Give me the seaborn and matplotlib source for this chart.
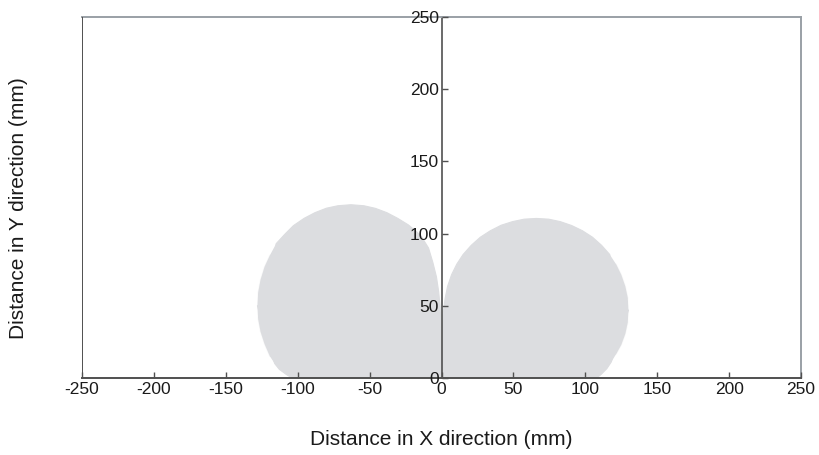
import numpy as np
import matplotlib
matplotlib.use("Agg")
import matplotlib.pyplot as plt
import pandas as pd
import seaborn as sns

# outline of the left lobe (mm)
left_x = [0, -0.2, -0.5, -1, -2, -3.5, -6, -9, -14, -17, -23, -30.5, -38, -46, -54,
          -63, -72, -80, -88, -95.5, -103, -109, -115, -119.3, -123, -125.8, -127.5,
          -128, -127.5, -125.8, -123, -119.3, -116, -112.8, -108, -104, 0]
left_y = [0, 20, 40, 50, 60, 70, 80, 90, 98, 101, 106, 110.6, 114.5, 117.5, 119.3,
          120, 119.3, 117.6, 114.5, 110.6, 105.5, 99.5, 93, 85, 77, 68, 59,
          50, 41, 32, 23.5, 15, 10, 6, 2.5, 0, 0]

# outline of the right lobe (mm)
right_x = [0, 0.2, 0.5, 1.2, 2.5, 4.2, 7, 10.6, 15, 20.7, 27, 34, 41.5, 49.4, 57.5,
           66, 74.5, 82.6, 90.5, 98, 105, 111.3, 117, 121.4, 125, 127.8, 129.5,
           130, 129.5, 127.8, 125, 121.4, 118, 115, 111, 108, 0]
right_y = [0, 15, 30, 45, 55, 63.4, 71.5, 78.8, 85.5, 91.9, 97.5, 102, 105.8, 108.3, 110,
           110.5, 110, 108.3, 105.6, 102, 97.5, 91.9, 85.5, 78.8, 71.5, 63.4, 55.5,
           47, 38.5, 30.6, 23, 16.5, 11, 6.5, 2.5, 0, 0]

x_ticks = [-250, -200, -150, -100, -50, 0, 50, 100, 150, 200, 250]
y_ticks = [0, 50, 100, 150, 200, 250]

sns.set_theme(style="white")
plt.rcParams['font.family'] = ['Liberation Sans', 'DejaVu Sans']
plt.rcParams['axes.unicode_minus'] = False

fill_col = '#dcdde0'
dark = '#505050'
light = '#9aa0a6'

fig = plt.figure(figsize=(8.19, 4.55), dpi=100)
ax = fig.add_axes([82/819, 77/455, 719/819, 361/455])
ax.set_axisbelow(False)

for xs, ys in [(left_x, left_y), (right_x, right_y)]:
    lobe = pd.DataFrame({'x': xs, 'y': ys})
    ax.fill(lobe['x'], lobe['y'], color=fill_col, lw=0, zorder=1)
    sns.lineplot(data=lobe, x='x', y='y', sort=False, color=fill_col, lw=0.8, ax=ax, zorder=1)

ax.set_xlim(x_ticks[0], x_ticks[-1])
ax.set_ylim(y_ticks[0], y_ticks[-1])
ax.set_xticks(x_ticks)
ax.set_yticks(y_ticks)

# y axis drawn through x = 0
ax.spines['left'].set_position(('data', 0))
ax.spines['left'].set_color(dark)
ax.spines['left'].set_linewidth(1.2)
ax.spines['bottom'].set_color(dark)
ax.spines['bottom'].set_linewidth(1.4)
for s in ['top', 'right']:
    ax.spines[s].set_color(light)
    ax.spines[s].set_linewidth(1.4)
ax.axvline(ax.get_xlim()[0], color=dark, lw=1.4, zorder=3)

ax.tick_params(axis='both', direction='in', length=4, width=1, color=dark,
               labelsize=12.5, labelcolor='#1a1a1a')
ax.tick_params(axis='y', left=True, pad=2)
ax.tick_params(axis='x', bottom=True, pad=3)

ax.set_xlabel('Distance in X direction (mm)', fontsize=15, color='#1a1a1a')
ax.set_ylabel('Distance in Y direction (mm)', fontsize=15, color='#1a1a1a')
ax.xaxis.set_label_coords(0.5, -0.145)
ax.yaxis.set_label_coords(-0.075, 0.47)

fig.savefig('out.png', dpi=100)
